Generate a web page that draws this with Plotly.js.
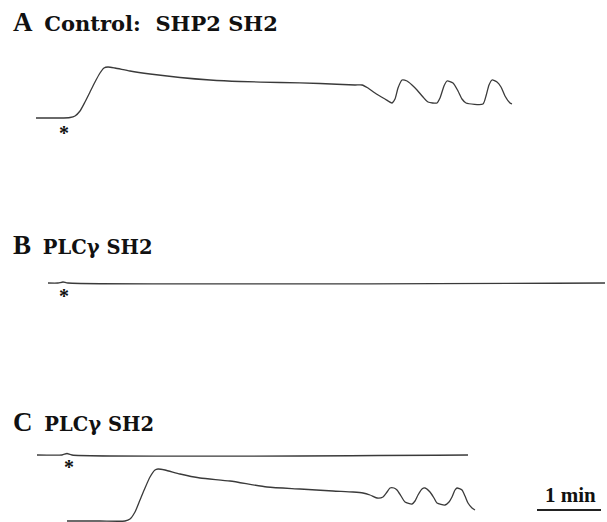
<!DOCTYPE html>
<html><head><meta charset="utf-8">
<script src="https://cdn.plot.ly/plotly-3.0.1.min.js"></script>
<style>html,body{margin:0;padding:0;background:#fff}#chart{width:607px;height:522px}</style>
</head><body><div id="chart"></div>
<script>
// Trace values (time in a.u., signal in a.u.; 64 time units = 1 min)
const traceA_t = [36,50,60,70,75,80,85,90,95,100,104,108,115,130,150,180,210,240,280,320,355,362,368,375,385,392,395,398,402,407,412,417,423,428,437,440,444,447,453,458,462,466,483,486,489,492,497,501,505,510,512];
const traceA_v = [404,404,404,404.5,406,411,420,430,440,449,454,455,454,451,448,444.5,442,440.5,439.5,438.5,437,437,434,429,423,419,423,434,442,441,437,432,425,420,419,424,436,441,439,431,423,419,418,426,437,442,440,435,426,419,418];

const traceB_t = [48,58,63,68,605];
const traceB_v = [239,239,240,239,239];

const traceC1_t = [37,62,67,72,468];
const traceC1_v = [67,67,68.5,67,67];

const traceC2_t = [67,100,125,130,135,140,145,150,155,158,165,180,200,230,267,300,333,353,363,370,377,383,387,390,394,397,401,405,412,415,418,422,425,430,434,437,445,449,452,455,457,462,465,468,472,475];
const traceC2_v = [1,1,1,3,10,22,34,45,52,53,52,48,44,41,35,33,31,30,29,27,24,25,30,34,34,32,26,20,18,21,27,33,34,30,24,19,17,20,25,32,34,32,26,19,14,12];

const panelTitles = ["A", "B", "C"];
const panelSubtitles = ["Control:&nbsp;&nbsp;SHP2 SH2", "PLCγ SH2", "PLCγ SH2"];
const stimTimes = [64, 64, 69];
const stimLevels = [394, 231, 60];
const scaleLabel = "1 min";
const scaleStart = 537, scaleLen = 64;

const lineStyle = {color: '#3a3a3a', width: 1.3, shape: 'spline', smoothing: 0.6};
const traces = [
  {x: traceA_t, y: traceA_v},
  {x: traceB_t, y: traceB_v},
  {x: traceC1_t, y: traceC1_v},
  {x: traceC2_t, y: traceC2_v}
].map(d => Object.assign(d, {type: 'scatter', mode: 'lines', line: lineStyle, hoverinfo: 'skip'}));

const titleY = [0.958, 0.531, 0.192];
const subSize = [21, 19.5, 19.5];
const annotations = panelTitles.map((p, i) => ({
  xref: 'paper', yref: 'paper', x: 0.018, y: titleY[i], xanchor: 'left', yanchor: 'middle', showarrow: false,
  text: '<b><span style="font-size:27px;font-family:Liberation Serif">' + p + '</span>&nbsp;&nbsp;<span style="font-size:' + subSize[i] + 'px">' + panelSubtitles[i] + '</span></b>',
  font: {family: 'DejaVu Serif', color: '#111', size: 17}
}));
stimTimes.forEach((t, i) => annotations.push({
  xref: 'x', yref: 'y', x: t, y: stimLevels[i] - 5, xanchor: 'center', yanchor: 'middle', showarrow: false,
  text: '<b>*</b>', font: {family: 'Liberation Serif', color: '#111', size: 20}
}));
annotations.push({
  xref: 'x', yref: 'y', x: scaleStart + scaleLen / 2 + 1, y: 27, xanchor: 'center', yanchor: 'middle', showarrow: false,
  text: '<b>' + scaleLabel + '</b>', font: {family: 'Liberation Serif', color: '#111', size: 21}
});

const layout = {
  width: 607, height: 522, margin: {l: 0, r: 0, t: 0, b: 0},
  paper_bgcolor: '#fff', plot_bgcolor: '#fff', showlegend: false,
  xaxis: {range: [0, 607], visible: false, fixedrange: true},
  yaxis: {range: [0, 522], visible: false, fixedrange: true},
  annotations: annotations,
  shapes: [{type: 'line', xref: 'x', yref: 'y', x0: scaleStart, x1: scaleStart + scaleLen, y0: 12, y1: 12, line: {color: '#222', width: 2}}]
};
Plotly.newPlot('chart', traces, layout, {staticPlot: true, displayModeBar: false});
</script></body></html>
